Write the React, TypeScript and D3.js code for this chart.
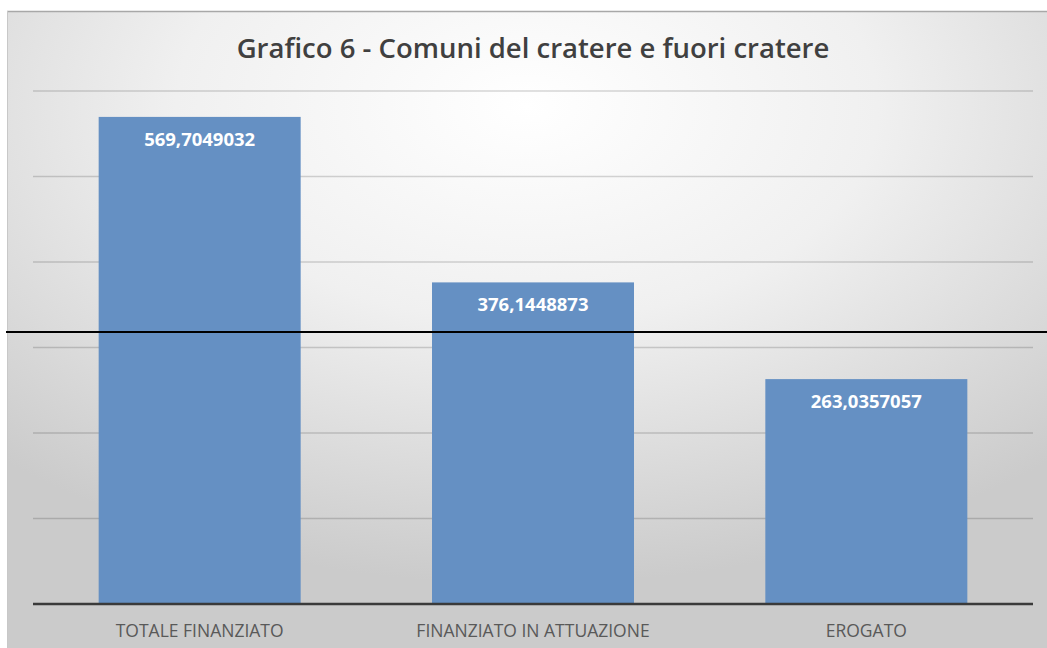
import * as d3 from "d3";

const categories = ["TOTALE FINANZIATO", "FINANZIATO IN ATTUAZIONE", "EROGATO"];
const values = [569.7049032, 376.1448873, 263.0357057];
const labels = ["569,7049032", "376,1448873", "263,0357057"];
const gridTicks = [0, 100, 200, 300, 400, 500, 600];
const title = "Grafico 6 - Comuni del cratere e fuori cratere";

export default function App() {
  const width = 1047;
  const height = 648;

  const frame = { left: 7, top: 11 };
  const plot = { left: 33, right: 1033, top: 91, bottom: 604 };

  const x = d3
    .scaleBand()
    .domain(categories)
    .range([plot.left, plot.right])
    .paddingInner(0.394)
    .paddingOuter(0.197);

  const y = d3.scaleLinear().domain([0, 600]).range([plot.bottom, plot.top]);

  return (
    <svg
      width={width}
      height={height}
      style={{ position: "absolute", left: 0, top: 0 }}
      fontFamily="'Open Sans', sans-serif"
    >
      <defs>
        <radialGradient id="bg" cx="50%" cy="15%" r="75%" fx="50%" fy="15%">
          <stop offset="0%" stopColor="#ffffff" />
          <stop offset="45%" stopColor="#f0f0f0" />
          <stop offset="100%" stopColor="#cbcbcb" />
        </radialGradient>
      </defs>
      <rect width={width} height={height} fill="#ffffff" />
      <rect
        x={frame.left}
        y={frame.top}
        width={width - frame.left}
        height={height - frame.top}
        fill="url(#bg)"
      />
      <line
        x1={frame.left}
        x2={width}
        y1={frame.top + 0.5}
        y2={frame.top + 0.5}
        stroke="#a8a8a8"
        strokeWidth={1.5}
      />
      <line
        x1={frame.left + 0.5}
        x2={frame.left + 0.5}
        y1={frame.top}
        y2={height}
        stroke="#c8c8c8"
        strokeWidth={1}
      />

      <text
        x={(plot.left + plot.right) / 2}
        y={58}
        textAnchor="middle"
        fontSize={27.5}
        fill="#404040"
        fontWeight={600}
      >
        {title}
      </text>

      {gridTicks.slice(1).map((t) => (
        <line
          key={t}
          x1={plot.left}
          x2={plot.right}
          y1={y(t)}
          y2={y(t)}
          stroke="rgba(0,0,0,0.16)"
          strokeWidth={1.5}
        />
      ))}

      {categories.map((c, i) => (
        <g key={c}>
          <rect
            x={x(c)}
            y={y(values[i])}
            width={x.bandwidth()}
            height={y(0) - y(values[i])}
            fill="#6590c3"
          />
          <text
            x={(x(c) ?? 0) + x.bandwidth() / 2}
            y={y(values[i]) + 29}
            textAnchor="middle"
            fontSize={18.5}
            fontWeight={700}
            fill="#ffffff"
          >
            {labels[i]}
          </text>
          <text
            x={(x(c) ?? 0) + x.bandwidth() / 2}
            y={637}
            textAnchor="middle"
            fontSize={17.5}
            fill="#595959"
          >
            {c}
          </text>
        </g>
      ))}

      <line
        x1={plot.left}
        x2={plot.right}
        y1={y(0)}
        y2={y(0)}
        stroke="#3a3a3a"
        strokeWidth={2.5}
      />

      <line x1={6} x2={width} y1={332} y2={332} stroke="#000000" strokeWidth={2} />
    </svg>
  );
}
